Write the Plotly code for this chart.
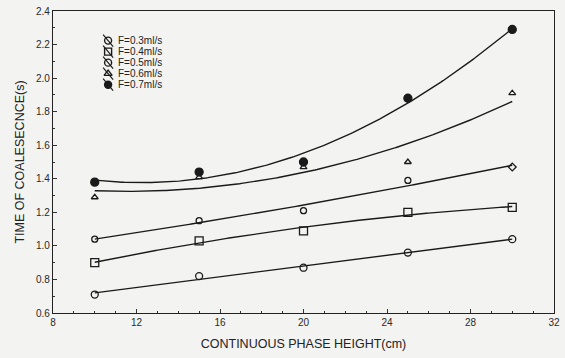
import numpy as np
import plotly.graph_objects as go

# Continuous phase height (cm)
heights = [10, 15, 20, 25, 30]

# Coalescence time (s) for each flow rate
t_f03 = [0.71, 0.82, 0.87, 0.96, 1.04]
t_f04 = [0.90, 1.03, 1.09, 1.20, 1.23]
t_f05 = [1.04, 1.15, 1.21, 1.39, 1.47]
t_f06 = [1.29, 1.41, 1.47, 1.50, 1.91]
t_f07 = [1.38, 1.44, 1.50, 1.88, 2.29]

series_names = ["F=0.3ml/s", "F=0.4ml/s", "F=0.5ml/s", "F=0.6ml/s", "F=0.7ml/s"]
series_values = [t_f03, t_f04, t_f05, t_f06, t_f07]
fit_degree = [1, 2, 2, 2, 2]

# Axis tick labels
x_ticks = [8, 12, 16, 20, 24, 28, 32]
y_ticks = [0.6, 0.8, 1.0, 1.2, 1.4, 1.6, 1.8, 2.0, 2.2, 2.4]
y_ticktext = ["0.6", "0.8", "1.0", "1.2", "1.4", "1.6", "1.8", "2.0", "2.2", "2.4"]

symbols = [
    "circle-open",
    "square-open",
    ["circle-open"] * 4 + ["diamond-open"],
    "triangle-up-open",
    "circle",
]
legend_symbols = ["circle-open", "square-open", "circle-open", "triangle-up-open", "circle"]
sizes = [7, 8, 6, 6, 8]

INK = "#1a1a1a"
FONT = "Liberation Sans, Arial, sans-serif"

fig = go.Figure()

xs = np.array(heights, dtype=float)
grid = np.linspace(xs.min(), xs.max(), 200)

for name, vals, deg, sym, sz in zip(series_names, series_values, fit_degree, symbols, sizes):
    coeffs = np.polyfit(xs, np.array(vals), deg)
    fig.add_trace(go.Scatter(
        x=grid, y=np.polyval(coeffs, grid), mode="lines",
        line=dict(color=INK, width=1.4),
        showlegend=False, hoverinfo="skip",
    ))
    fig.add_trace(go.Scatter(
        x=heights, y=vals, mode="markers", name=name, showlegend=False,
        marker=dict(symbol=sym, size=sz, color=INK, line=dict(color=INK, width=1.3)),
    ))

# Compact key drawn on an overlay axis spanning the plot area (0..1 both ways)
key_x, key_top, key_step = 0.11, 0.902, 0.0365
for i, (name, sym) in enumerate(zip(series_names, legend_symbols)):
    ky = key_top - i * key_step
    fig.add_trace(go.Scatter(
        x=[key_x - 0.010, key_x + 0.010], y=[ky + 0.02, ky - 0.02], mode="lines",
        line=dict(color=INK, width=1.2), xaxis="x2", yaxis="y2",
        showlegend=False, hoverinfo="skip",
    ))
    fig.add_trace(go.Scatter(
        x=[key_x], y=[ky], mode="markers", xaxis="x2", yaxis="y2",
        marker=dict(symbol=sym, size=7, color=INK, line=dict(color=INK, width=1.4)),
        showlegend=False, hoverinfo="skip",
    ))
    fig.add_annotation(
        x=key_x + 0.015, y=ky, xref="x2", yref="y2", xanchor="left", yanchor="middle",
        text=name, showarrow=False, font=dict(family=FONT, size=10, color="#222"),
    )

fig.update_layout(
    width=565, height=358,
    margin=dict(l=53, r=8, t=5, b=45),
    paper_bgcolor="#f3f3f1",
    plot_bgcolor="#f3f3f1",
    font=dict(family=FONT, size=10, color="#2a2a2a"),
    showlegend=False,
    xaxis=dict(
        range=[8, 32], tickvals=x_ticks,
        ticks="inside", ticklen=4, tickcolor="#333",
        minor=dict(dtick=1, ticks="inside", ticklen=2, tickcolor="#333"),
        showline=True, linecolor="#222", linewidth=1.2, mirror=True,
        showgrid=False, zeroline=False,
        title=dict(text="CONTINUOUS PHASE HEIGHT(cm)", font=dict(size=12.5, color="#222"), standoff=12),
    ),
    yaxis=dict(
        range=[0.6, 2.4], tickvals=y_ticks, ticktext=y_ticktext,
        ticks="inside", ticklen=4, tickcolor="#333", ticklabeloverflow="allow",
        minor=dict(dtick=0.1, ticks="inside", ticklen=2, tickcolor="#333"),
        showline=True, linecolor="#222", linewidth=1.2, mirror=True,
        showgrid=False, zeroline=False,
        title=dict(text="TIME OF COALESECNCE(s)", font=dict(size=12.5, color="#222"), standoff=8),
    ),
    xaxis2=dict(range=[0, 1], overlaying="x", visible=False, fixedrange=True),
    yaxis2=dict(range=[0, 1], overlaying="y", visible=False, fixedrange=True),
)

fig.write_html("out.html")
